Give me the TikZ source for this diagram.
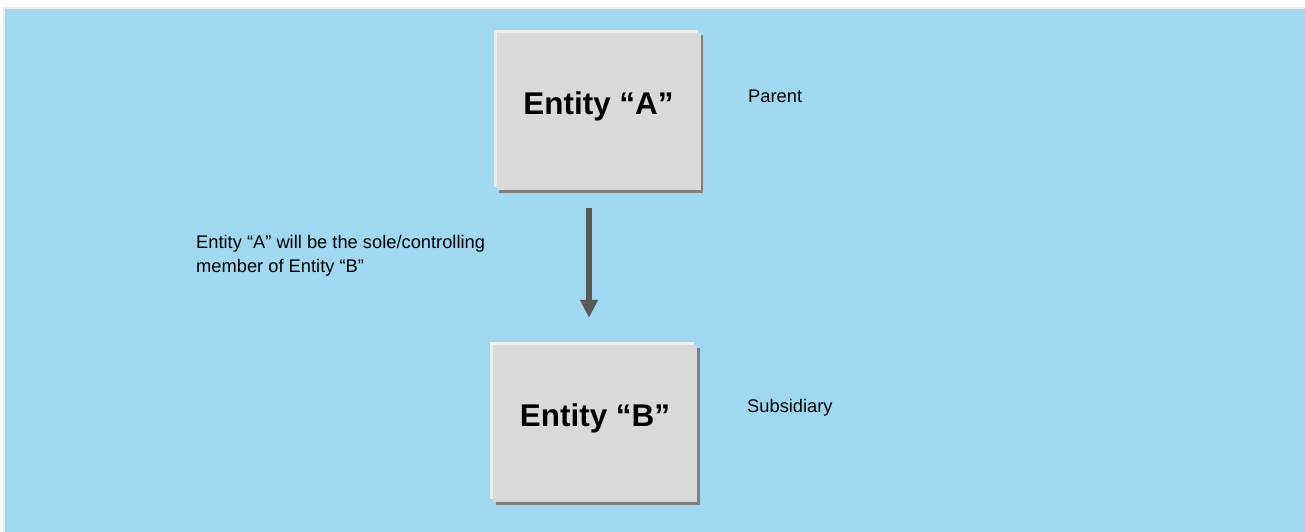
\documentclass[tikz,border=0pt]{standalone}
\usepackage{fontspec}
\setmainfont{Liberation Sans}
\usetikzlibrary{arrows.meta,shadows}

\definecolor{panelblue}{RGB}{160,216,242}
\definecolor{panelrim}{RGB}{235,235,235}
\definecolor{boxfill}{RGB}{217,217,217}
\definecolor{boxlight}{RGB}{236,236,236}
\definecolor{boxshade}{RGB}{128,128,128}
\definecolor{arrowgray}{RGB}{89,89,89}

\tikzset{
  entitybox/.style={
    rectangle, fill=boxfill, inner sep=0pt,
    minimum width=204pt, minimum height=157pt,
    text height=22pt, text depth=17pt,
    font=\bfseries\fontsize{31.4}{36}\selectfont,
    general shadow={shadow xshift=2.5pt, shadow yshift=-2.5pt, fill=boxshade},
    general shadow={shadow xshift=-3pt, shadow yshift=3pt, fill=boxlight}
  },
  roletext/.style={anchor=base west, inner sep=0pt,
    font=\fontsize{18.3}{24.3}\selectfont},
  relation/.style={draw=arrowgray, line width=6pt,
    -{Triangle[width=17pt,length=18pt]}}
}

\begin{document}
\begin{tikzpicture}[x=1pt,y=-1pt]
  \useasboundingbox (0,0) rectangle (1305,532);
  % page panel
  \fill[white] (0,0) rectangle (1305,532);
  \fill[panelrim] (3,7) rectangle (1305,532);
  \fill[panelblue] (5,9) rectangle (1305,532);

  % entities
  \node[entitybox] (A) at (598.5,111.5) {Entity “A”};
  \node[entitybox] (B) at (595,423.5) {Entity “B”};

  % side labels
  \node[roletext] (parent) at (748,102.3) {Parent};
  \node[roletext] (subsidiary) at (747,412) {Subsidiary};
  % base anchor of a two-line node sits on its last line
  \node[roletext, align=left] (relnote) at (196,272.5)
    {Entity “A” will be the sole/controlling\\member of Entity “B”};

  % ownership arrow
  \draw[relation, shorten <=18pt, shorten >=27pt]
    ([xshift=-9.5pt]A.south) -- ([xshift=-9.5pt]A.south |- B.north);
\end{tikzpicture}
\end{document}
